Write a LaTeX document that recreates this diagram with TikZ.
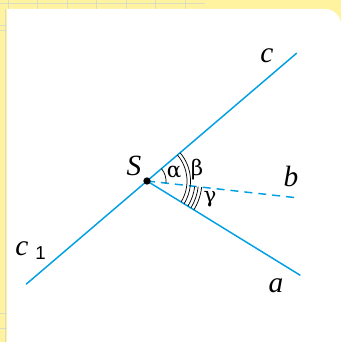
\documentclass[tikz,border=0pt]{standalone}
\usepackage{fontspec}
\setmainfont{Liberation Serif}
\newfontfamily\subfont{Liberation Sans}
\newfontfamily\greekfont{DejaVu Serif}
\definecolor{rayblue}{RGB}{0,160,227}
\definecolor{pageyellow}{RGB}{255,243,160}
\definecolor{gridgrey}{RGB}{218,220,196}
\tikzset{
  ray line/.style={draw=rayblue,line width=1.1pt},
  ray dash/.style={draw=rayblue,line width=1.1pt,dash pattern=on 6pt off 4.5pt},
  ang arc/.style={black,line width=0.55pt},
  ray label/.style={font=\fontsize{22}{24}\selectfont\itshape,inner sep=0pt},
  greek label/.style={font=\fontsize{16}{18}\greekfont,inner sep=0pt}
}
\newcommand{\sarc}[3]{%
  \draw[ang arc] ([shift={(#1:#3)}]S) arc[start angle=#1,end angle=#2,radius=#3];%
}

\begin{document}
\begin{tikzpicture}[x=0.75pt,y=0.75pt]
  \useasboundingbox (0,0) rectangle (341,342);
  \fill[pageyellow] (0,0) rectangle (341,342);
  \draw[gridgrey,line width=0.5pt] (0,339)--(205,339) (5,0)--(5,333);
  \foreach \gx in {8,37.5,67,96.5,126,155.5,185}
    \draw[gridgrey,line width=0.6pt] (\gx,333)--(\gx,342);
  \foreach \gy in {14,29,312,317}
    \draw[gridgrey,line width=0.5pt] (0,\gy)--(7,\gy);
  \fill[white] (7,0)--(7,333)--(325,333) arc[start angle=90,end angle=0,radius=16]--(341,0)--cycle;
  \coordinate (S) at (147,161);
  \coordinate (cend) at ([shift={(40.5:197)}]S);
  \coordinate (c1end) at ([shift={(220.5:159)}]S);
  \coordinate (aend) at ([shift={(-31.6:180)}]S);
  \coordinate (bend) at ([shift={(-6.4:154)}]S);
  \draw[ray line] (c1end)--(cend);
  \draw[ray line] (S)--(aend);
  \draw[ray dash] (S)--(bend);
  \sarc{-6.4}{40.5}{19}
  \sarc{-31.6}{40.5}{40}
  \sarc{-31.6}{40.5}{43.5}
  \sarc{-31.6}{-6.4}{48}
  \sarc{-31.6}{-6.4}{51.5}
  \sarc{-31.6}{-6.4}{55}
  \node[circle,fill=black,inner sep=0pt,minimum size=5.5pt] (Sdot) at (S) {};
  \node[ray label] (Slab) at (134,176) {S};
  \node[greek label] (alab) at (174,170) {α};
  \node[greek label] (blab) at (197,172) {β};
  \node[greek label] (glab) at (210,143) {γ};
  \node[ray label] (clab) at (267,286) {c};
  \node[ray label] (blab2) at (291,166) {b};
  \node[ray label] (alab2) at (276,56) {a};
  \node[ray label] (c1lab) at (22,93) {c};
  \node[font=\fontsize{14}{16}\subfont,inner sep=0pt] (c1sub) at (40.5,89) {1};
\end{tikzpicture}
\end{document}
